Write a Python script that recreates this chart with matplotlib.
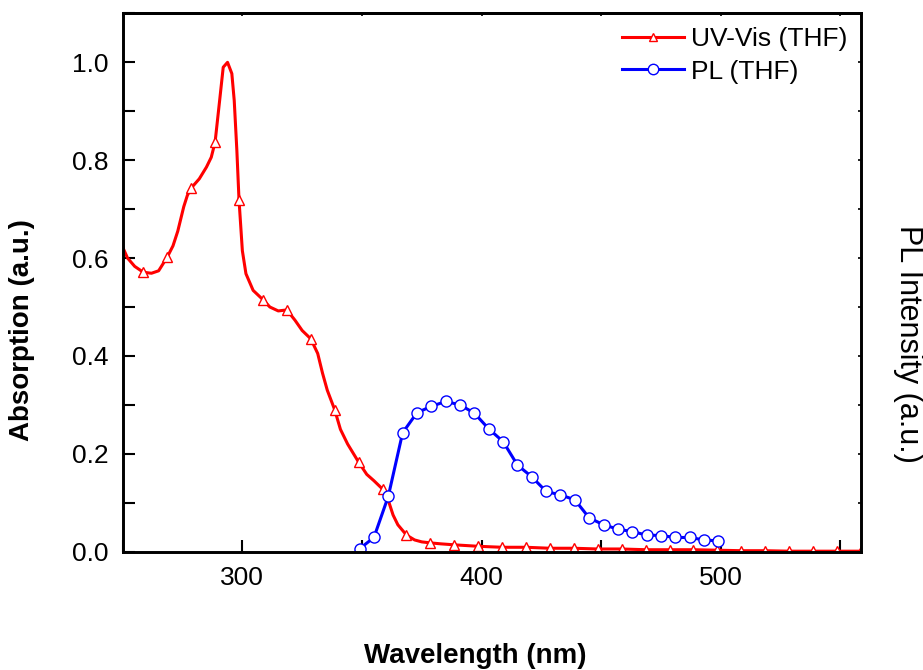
import matplotlib
matplotlib.use("Agg")
import matplotlib.pyplot as plt
from matplotlib.lines import Line2D
from matplotlib.ticker import MultipleLocator, FormatStrFormatter

plt.rcParams['font.family'] = ['Liberation Sans', 'DejaVu Sans']

# UV-Vis absorption (THF)
uv_nm = [250, 252, 255, 258.6, 262, 265, 268.6, 271, 273, 275.5, 277, 278.6,
         282, 285, 287, 288.6, 290.5, 292, 293.8, 295.6, 296.6, 297.7, 298.6,
         300, 301.5, 304.5, 308.6, 311.5, 315, 318.6, 322, 325, 328.6, 331.5,
         333.5, 335.5, 338.6, 341, 344, 348.6, 352, 355, 358.6, 361, 363, 365,
         368.6, 372, 375, 378.6, 383, 388.6, 398.6, 408.6, 418.6, 428.6, 438.6,
         448.6, 458.6, 468.6, 478.6, 488.6, 498.6, 508.6, 518.6, 528.6, 538.6,
         548.6, 558.6]
uv_abs = [0.622, 0.600, 0.583, 0.571, 0.569, 0.574, 0.602, 0.625, 0.655, 0.705,
          0.728, 0.743, 0.762, 0.786, 0.806, 0.837, 0.922, 0.990, 1.000, 0.977,
          0.922, 0.820, 0.719, 0.615, 0.568, 0.534, 0.515, 0.500, 0.492, 0.494,
          0.473, 0.452, 0.435, 0.405, 0.365, 0.330, 0.290, 0.250, 0.220, 0.183,
          0.158, 0.145, 0.128, 0.105, 0.075, 0.055, 0.034, 0.024, 0.020, 0.018,
          0.016, 0.014, 0.011, 0.009, 0.009, 0.007, 0.007, 0.0055, 0.0055, 0.004,
          0.004, 0.004, 0.003, 0.002, 0.002, 0.001, 0.001, 0.001, 0.001]
# wavelengths that carry a triangle marker
uv_mark_nm = [258.6, 268.6, 278.6, 288.6, 298.6, 308.6, 318.6, 328.6, 338.6,
              348.6, 358.6, 368.6, 378.6, 388.6, 398.6, 408.6, 418.6, 428.6,
              438.6, 448.6, 458.6, 468.6, 478.6, 488.6, 498.6, 508.6, 518.6,
              528.6, 538.6, 548.6, 558.6]

# PL emission (THF)
pl_nm = [349, 355, 361, 367, 373, 379, 385, 391, 397, 403, 409, 415, 421,
         427, 433, 439, 445, 451, 457, 463, 469, 475, 481, 487, 493, 499]
pl_int = [0.006, 0.029, 0.113, 0.243, 0.284, 0.297, 0.307, 0.300, 0.283,
          0.251, 0.225, 0.177, 0.153, 0.123, 0.116, 0.106, 0.069, 0.055,
          0.046, 0.041, 0.034, 0.033, 0.029, 0.029, 0.024, 0.022]

uv_marks = [i for i, w in enumerate(uv_nm) if w in uv_mark_nm]

fig = plt.figure(figsize=(9.23, 6.70), dpi=100)
ax = fig.add_axes([0.133, 0.1766, 0.7995, 0.8034])

ax.plot(uv_nm, uv_abs, color='red', lw=2.2, marker='^', ms=6.5,
        mfc='white', mec='red', mew=1.0, markevery=uv_marks)
ax.plot(pl_nm, pl_int, color='blue', lw=2.2, marker='o', ms=8,
        mfc='white', mec='blue', mew=1.0)

ax.set_xlim(250, 558.5)
ax.set_ylim(0, 1.1)
ax.xaxis.set_major_locator(MultipleLocator(100))
ax.xaxis.set_minor_locator(MultipleLocator(50))
ax.yaxis.set_major_locator(MultipleLocator(0.2))
ax.yaxis.set_minor_locator(MultipleLocator(0.1))
ax.yaxis.set_major_formatter(FormatStrFormatter('%.1f'))
ax.tick_params(which='both', direction='in', length=8.5, width=1.5,
               top=False, right=False, labelsize=19, pad=10)
for s in ax.spines.values():
    s.set_linewidth(1.9)

# small ticks on the top and right frame
top = ax.secondary_xaxis('top')
top.xaxis.set_major_locator(MultipleLocator(50))
top.tick_params(direction='in', length=2.5, width=1.2, labeltop=False)
top.spines['top'].set_linewidth(1.9)

ax2 = ax.twinx()
ax2.set_ylim(0, 1.1)
ax2.yaxis.set_major_locator(MultipleLocator(0.1))
ax2.tick_params(direction='in', length=2.5, width=1.2, labelright=False)
for s in ax2.spines.values():
    s.set_linewidth(1.9)

fig.text(0.0238, 0.507, 'Absorption (a.u.)', rotation=90, fontsize=20,
         fontweight='bold', ha='center', va='center')
fig.text(0.5146, 0.021, 'Wavelength (nm)', fontsize=20, fontweight='bold',
         ha='center', va='center')
fig.text(0.9837, 0.4866, 'PL Intensity (a.u.)', rotation=270, fontsize=22,
         ha='center', va='center')

handles = [
    Line2D([], [], color='red', lw=2.2, marker='^', ms=6, mfc='white',
           mec='red', mew=1.0),
    Line2D([], [], color='blue', lw=2.2, marker='o', ms=7.5, mfc='white',
           mec='blue', mew=1.0),
]
ax.legend(handles, ['UV-Vis (THF)', 'PL (THF)'], loc='upper left',
          bbox_to_anchor=(0.6735, 0.96), bbox_transform=fig.transFigure,
          frameon=False, fontsize=19, handlelength=2.35, handletextpad=0.28,
          labelspacing=0.33, borderpad=0, borderaxespad=0)

fig.savefig('out.png', dpi=100)
